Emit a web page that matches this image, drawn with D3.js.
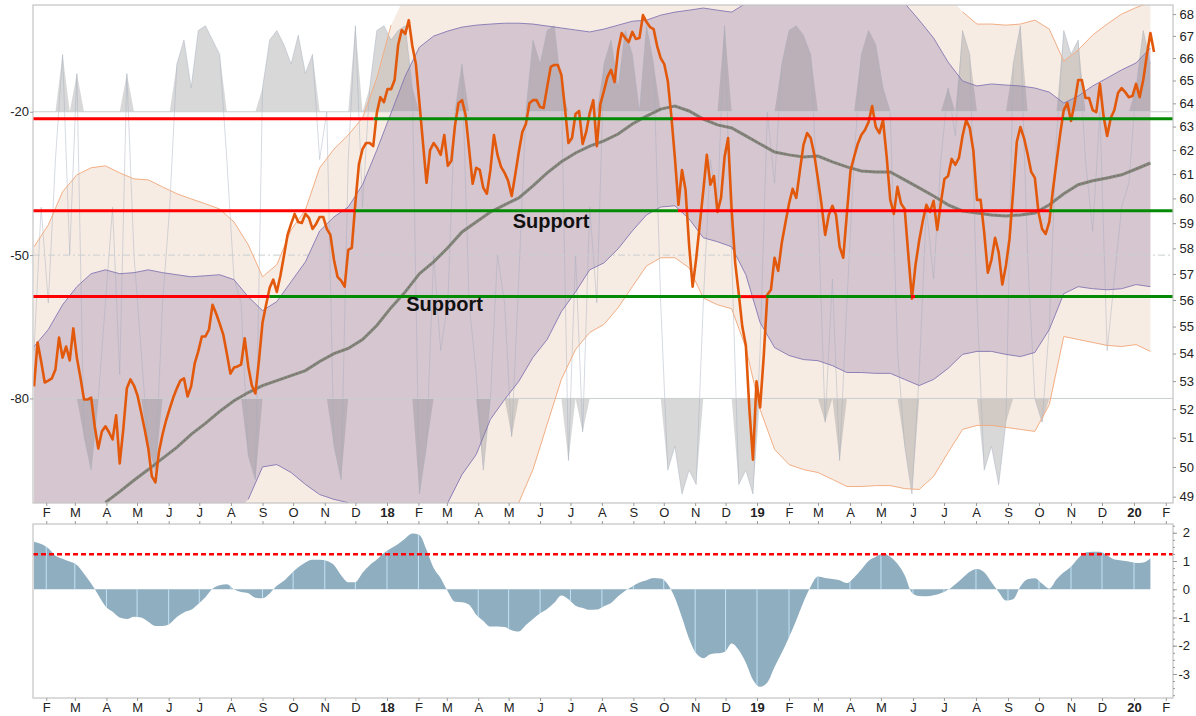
<!DOCTYPE html>
<html>
<head>
<meta charset="utf-8">
<script src="https://cdn.jsdelivr.net/npm/d3@7"></script>
<style>
 body { margin: 0; background: #fff; }
 text { font-family: "Liberation Sans", Arial, sans-serif; }
</style>
</head>
<body>
<script>
// closes every half week (from Jan 20 2017)
const price = [52.81,54.41,53.71,52.95,53.02,53.10,53.42,54.59,53.85,54.26,
 53.75,54.93,53.85,53.13,52.34,52.34,52.41,51.40,50.63,51.22,
 51.40,51.19,50.94,51.78,50.12,51.29,52.74,53.06,52.84,52.48,
 51.89,51.29,50.63,49.68,49.48,50.53,51.12,51.61,52.02,52.41,
 52.74,53.02,53.10,52.45,52.81,53.64,54.08,54.63,54.63,54.89,
 55.82,55.49,55.11,54.70,54.00,53.27,53.49,53.53,53.60,54.56,
 53.53,52.84,52.56,53.75,55.15,55.82,56.47,56.78,56.31,56.93,
 57.71,58.53,58.97,59.37,59.05,59.01,59.37,59.21,58.77,58.97,
 59.25,59.25,58.77,58.53,57.55,56.89,56.74,56.51,57.94,58.02,
 59.82,61.42,62.04,62.30,62.30,62.17,63.58,64.27,64.05,64.62,
 64.62,65.02,66.59,67.27,67.09,67.72,66.54,65.73,64.01,62.30,
 60.64,62.00,62.30,62.09,61.80,62.64,61.34,61.55,63.02,64.01,
 64.14,63.50,62.04,60.60,61.26,61.17,60.43,60.19,61.17,62.64,
 61.80,61.30,61.05,60.72,60.10,60.97,61.92,62.77,63.11,64.01,
 64.14,64.14,63.84,63.80,64.71,65.60,65.69,65.69,65.25,63.80,
 62.30,62.51,63.54,63.67,62.26,62.77,63.58,64.14,62.17,63.97,
 64.54,65.16,65.47,64.93,66.36,67.13,66.90,66.72,67.18,66.86,
 66.90,67.95,67.63,67.40,67.31,66.54,66.00,65.73,64.98,63.45,
 61.67,59.74,61.17,60.35,58.14,56.51,57.59,58.93,60.31,61.80,
 60.56,60.92,59.45,60.02,61.71,62.51,59.53,57.43,56.24,55.00,
 54.30,51.99,50.25,52.99,52.06,53.89,56.20,56.39,57.63,57.12,
 58.22,59.01,59.78,60.39,60.02,61.13,62.22,62.72,62.51,61.80,
 60.80,59.74,58.53,59.33,59.70,59.33,58.06,57.63,59.37,61.13,
 61.71,62.26,62.64,62.85,63.19,63.88,62.98,62.72,63.28,61.75,
 59.94,59.37,60.47,59.78,59.57,57.75,56.05,57.36,58.30,59.09,
 59.74,59.45,59.90,58.73,59.82,60.80,60.92,61.63,61.38,61.67,
 62.60,63.28,62.94,61.96,59.94,59.94,58.61,57.05,57.55,58.42,
 57.83,56.59,57.32,58.38,60.27,62.34,62.98,62.51,61.84,61.09,
 60.84,59.45,58.77,58.57,59.05,60.35,61.51,62.68,63.71,64.01,
 63.24,64.01,65.02,65.02,64.23,64.23,63.71,63.62,64.85,63.45,
 62.60,63.37,63.71,64.45,64.67,64.49,64.27,64.32,64.85,64.27,
 65.02,66.13,67.13,66.27];

// williams %R, weekly
const pctR = [-70,-40,-60,-30,-8,-50,-12,-88,-95,-80,
 -60,-40,-75,-12,-50,-70,-90,-95,-60,-40,
 -10,-5,-15,-3,-2,-5,-8,-30,-55,-60,
 -92,-97,-15,-5,-3,-6,-10,-4,-12,-8,
 -30,-20,-90,-97,-30,-2,-40,-15,-3,-2,
 -5,-3,-2,-15,-100,-90,-50,-70,-60,-20,
 -10,-60,-75,-95,-80,-50,-60,-88,-55,-20,
 -5,-10,-3,-2,-15,-93,-50,-87,-40,-60,
 -10,-5,-15,-3,-8,-20,-2,-10,-60,-95,
 -90,-100,-95,-98,-60,-30,-40,-2,-50,-98,
 -95,-100,-70,-20,-35,-10,-3,-2,-4,-8,
 -40,-85,-55,-93,-60,-30,-8,-3,-6,-15,
 -20,-70,-90,-100,-75,-40,-55,-30,-15,-25,
 -3,-8,-60,-95,-90,-98,-85,-10,-2,-50,
 -80,-85,-65,-25,-3,-8,-5,-30,-45,-20,
 -70,-55,-40,-35,-15,-3,-10];

// lower panel, weekly
const histo = [1.68,1.60,1.45,1.19,1.08,0.98,0.86,0.55,0.20,-0.20,
 -0.60,-0.80,-1.00,-1.05,-0.97,-1.00,-1.15,-1.30,-1.30,-1.22,
 -0.98,-0.82,-0.73,-0.52,-0.28,0.02,0.14,0.18,0.00,-0.10,
 -0.14,-0.30,-0.32,-0.15,0.12,0.30,0.55,0.78,0.95,1.04,
 1.04,1.00,0.86,0.50,0.25,0.25,0.58,0.85,1.05,1.28,
 1.45,1.60,1.80,1.97,1.92,1.40,0.75,0.39,-0.08,-0.44,
 -0.46,-0.55,-0.90,-1.12,-1.32,-1.32,-1.34,-1.45,-1.50,-1.27,
 -1.05,-0.85,-0.70,-0.48,-0.22,-0.35,-0.58,-0.66,-0.73,-0.72,
 -0.60,-0.49,-0.25,-0.05,0.10,0.24,0.32,0.40,0.38,0.18,
 -0.30,-1.00,-1.75,-2.27,-2.44,-2.30,-2.27,-2.22,-1.92,-2.15,
 -2.60,-3.20,-3.45,-3.30,-2.75,-2.25,-1.70,-1.10,-0.45,0.10,
 0.45,0.40,0.36,0.32,0.22,0.42,0.70,1.00,1.15,1.27,
 1.15,0.90,0.50,-0.12,-0.24,-0.25,-0.21,-0.14,-0.02,0.18,
 0.40,0.62,0.72,0.60,0.25,-0.10,-0.40,-0.35,0.10,0.35,
 0.39,0.20,0.02,0.35,0.60,0.80,1.10,1.30,1.33,1.33,
 1.20,1.05,1.02,0.98,0.93,0.95,1.10];
const signalLevel = 1.24;

// every two weeks; null = off the chart
const movAvg = [null,null,null,null,null,48.81,49.17,49.55,49.91,50.29,
 50.67,51.12,51.50,51.92,52.30,52.59,52.84,53.02,53.20,53.38,
 53.71,54.00,54.19,54.52,55.04,55.71,56.31,57.01,57.47,58.02,
 58.65,59.05,59.45,59.74,60.02,60.51,61.05,61.51,61.88,62.17,
 62.39,62.68,63.11,63.45,63.75,63.88,63.67,63.32,63.07,62.94,
 62.60,62.26,61.92,61.80,61.71,61.75,61.51,61.30,61.13,61.09,
 61.09,60.76,60.43,60.10,59.74,59.49,59.41,59.33,59.29,59.33,
 59.41,59.74,60.19,60.56,60.72,60.84,60.97,61.21,61.46];
const upperPurple = [54.26,54.89,55.82,56.51,57.01,57.16,57.01,57.05,57.16,57.05,
 56.97,56.89,56.93,56.97,56.78,56.12,55.60,55.94,56.70,57.47,
 58.69,59.25,59.65,60.56,62.00,63.58,65.20,66.49,66.99,67.22,
 67.40,67.49,67.54,67.58,67.58,67.54,67.45,67.36,67.27,67.18,
 67.31,67.49,67.67,67.72,67.95,68.09,68.18,68.28,68.18,68.09,
 68.50,null,null,null,null,null,null,null,null,null,
 null,68.50,67.72,66.90,65.82,64.98,64.76,64.85,64.80,64.76,
 64.67,64.49,64.01,64.32,64.76,65.11,65.47,65.78,66.45];
const lowerPurple = [null,null,null,null,null,null,null,null,null,null,
 null,null,null,null,null,48.91,50.00,50.08,49.81,49.41,
 49.07,48.91,48.80,null,null,null,null,null,null,48.80,
 49.74,50.42,51.64,52.34,52.99,53.86,54.52,55.56,56.31,57.16,
 57.43,57.98,58.69,59.33,59.65,59.70,59.17,58.42,58.26,58.06,
 56.97,55.15,54.22,53.93,53.78,53.74,53.56,53.31,53.31,53.28,
 53.28,53.06,52.84,53.06,53.46,53.97,54.08,54.08,53.97,53.89,
 54.04,54.89,56.24,56.51,56.43,56.39,56.43,56.59,56.51];
const upperOrange = [58.06,58.93,60.27,60.97,61.26,61.34,61.05,60.80,60.76,60.47,
 60.19,59.98,59.78,59.57,59.05,58.14,56.89,57.36,58.73,59.53,
 61.26,62.04,62.64,63.37,65.11,67.49,null,null,null,null,
 null,null,null,null,null,null,null,null,null,null,
 null,null,null,null,null,null,null,null,null,null,
 null,null,null,null,null,null,null,null,null,null,
 null,null,null,null,null,68.10,67.54,67.54,67.49,67.54,
 67.72,67.31,65.86,66.36,67.04,67.54,68.00,68.30,68.55];
const lowerOrange = [null,null,null,null,null,null,null,null,null,null,
 null,null,null,null,null,null,null,null,null,null,
 null,null,null,null,null,null,null,null,null,null,
 null,null,null,null,48.80,49.91,51.47,53.06,54.15,54.78,
 55.08,55.71,56.51,57.31,57.63,57.63,57.24,56.08,55.82,55.67,
 54.22,51.99,50.60,50.08,49.91,49.81,49.58,49.34,49.34,49.37,
 49.37,49.27,49.24,49.68,50.49,51.29,51.43,51.43,51.36,51.29,
 51.22,52.16,54.63,54.52,54.41,54.30,54.26,54.33,54.08];

// support / resistance levels
const levelPrices = [63.33, 59.50, 56.13];
const levelSegments = [
 [0, "2017-01-19", "2017-12-19", "red"],
 [0, "2017-12-19", "2018-10-10", "green"],
 [0, "2018-10-10", "2019-10-24", "red"],
 [0, "2019-10-24", "2020-02-08", "green"],
 [1, "2017-01-19", "2017-12-01", "red"],
 [1, "2017-12-01", "2018-10-15", "green"],
 [1, "2018-10-15", "2019-10-11", "red"],
 [1, "2019-10-11", "2020-02-08", "green"],
 [2, "2017-01-19", "2017-09-08", "red"],
 [2, "2017-09-08", "2018-12-16", "green"],
 [2, "2018-12-16", "2019-01-10", "red"],
 [2, "2019-01-10", "2020-02-08", "green"],
 [2, "2019-05-30", "2019-06-03", "red"]
];
const notes = [["Support", "2018-05-05", 58.79], ["Support", "2018-01-20", 55.58]];

const monthLetters = ["J","F","M","A","M","J","J","A","S","O","N","D"];
const priceTicks = d3.range(49, 69);
const rTicks = [-20, -50, -80];
const histoTicks = [-3, -2, -1, 0, 1, 2];

// layout
const left = 33, right = 1173;
const mainTop = 5, mainBottom = 503;
const lowTop = 524, lowBottom = 698;
const parse = d3.timeParse("%Y-%m-%d");
const start = new Date(2017, 0, 20);
const halfWeeks = d3.range(price.length).map(i => d3.timeHour.offset(start, 84 * i));
const weeks = d3.range(pctR.length).map(i => d3.timeDay.offset(start, 7 * i));
const biweeks = d3.range(movAvg.length).map(i => d3.timeDay.offset(start, 14 * i));
const months = d3.timeMonth.range(new Date(2017, 1, 1), new Date(2020, 1, 2));

const x = d3.scaleTime()
  .domain([new Date(2017,0,19), new Date(2018,0,1), new Date(2019,0,1), new Date(2020,0,1), new Date(2020,1,8)])
  .range([left, 387, 757, 1134, right]);
const yP = d3.scaleLog().domain([48.79, 68.42]).range([mainBottom, mainTop]);
const yR = d3.scaleLinear().domain([0, -100]).range([16.2, 494]);
const yH = d3.scaleLinear().domain([-3.85, 2.31]).range([lowBottom, lowTop]);

const svg = d3.select("body").append("svg").attr("width", 1196).attr("height", 716);
const defs = svg.append("defs");
defs.append("clipPath").attr("id", "mainClip").append("rect")
  .attr("x", left).attr("y", mainTop).attr("width", right - left).attr("height", mainBottom - mainTop);
defs.append("clipPath").attr("id", "lowClip").append("rect")
  .attr("x", left).attr("y", lowTop).attr("width", right - left).attr("height", lowBottom - lowTop);

const main = svg.append("g").attr("clip-path", "url(#mainClip)");

// bands: null means past the top (upper) or past the bottom (lower)
function band(lo, hi) {
  return d3.area()
    .x((d, i) => x(biweeks[i]))
    .y0((d, i) => lo[i] == null ? mainBottom + 10 : yP(lo[i]))
    .y1((d, i) => hi[i] == null ? mainTop - 10 : yP(hi[i]))(biweeks);
}
const bline = d3.line().defined(v => v != null).x((v, i) => x(biweeks[i])).y(v => yP(v));

main.append("path").attr("d", band(lowerOrange, upperOrange)).attr("fill", "#f7ece4");
main.append("path").attr("d", band(lowerPurple, upperPurple)).attr("fill", "#9c82ab").attr("fill-opacity", 0.36);

// %R shading
main.append("path")
  .attr("d", d3.area().x((v, i) => x(weeks[i])).y0(yR(-20)).y1(v => yR(Math.max(v, -20)))(pctR))
  .attr("fill", "#7f7f7f").attr("fill-opacity", 0.3);
main.append("path")
  .attr("d", d3.area().x((v, i) => x(weeks[i])).y0(yR(-80)).y1(v => yR(Math.min(v, -80)))(pctR))
  .attr("fill", "#7f7f7f").attr("fill-opacity", 0.3);
main.append("path")
  .attr("d", d3.line().x((v, i) => x(weeks[i])).y(v => yR(v))(pctR))
  .attr("fill", "none").attr("stroke", "#a4acbd").attr("stroke-opacity", 0.45).attr("stroke-width", 1);

// grid
rTicks.forEach(t => {
  main.append("line").attr("x1", left).attr("x2", right).attr("y1", yR(t)).attr("y2", yR(t))
    .attr("stroke", "#c9cfd0").attr("stroke-width", 1)
    .attr("stroke-dasharray", t == -50 ? "7,3,2,3" : null);
});

// band edges
[upperOrange, lowerOrange].forEach(s => main.append("path").attr("d", bline(s))
  .attr("fill", "none").attr("stroke", "#f2ae84").attr("stroke-width", 1));
[upperPurple, lowerPurple].forEach(s => main.append("path").attr("d", bline(s))
  .attr("fill", "none").attr("stroke", "#7e72b2").attr("stroke-width", 1).attr("stroke-opacity", 0.85));

// moving average
main.append("path").attr("d", bline(movAvg))
  .attr("fill", "none").attr("stroke", "#717c6e").attr("stroke-width", 3).attr("stroke-opacity", 0.85);
main.append("path").attr("d", bline(movAvg))
  .attr("fill", "none").attr("stroke", "#9b4a4a").attr("stroke-width", 1).attr("stroke-dasharray", "1,3");

// price
main.append("path")
  .attr("d", d3.line().x((v, i) => x(halfWeeks[i])).y(v => yP(v))(price))
  .attr("fill", "none").attr("stroke", "#e2590c").attr("stroke-width", 2.6)
  .attr("stroke-linejoin", "round");

// levels
main.selectAll(".lvl").data(levelSegments).enter().append("line")
  .attr("x1", d => x(parse(d[1]))).attr("x2", d => x(parse(d[2])))
  .attr("y1", d => yP(levelPrices[d[0]])).attr("y2", d => yP(levelPrices[d[0]]))
  .attr("stroke", d => d[3] == "red" ? "#ff0000" : "#058a05").attr("stroke-width", 3);

main.selectAll(".note").data(notes).enter().append("text")
  .attr("x", d => x(parse(d[1]))).attr("y", d => yP(d[2]))
  .attr("font-size", 20).attr("font-weight", "bold").attr("fill", "#111")
  .text(d => d[0]);

// lower panel
const low = svg.append("g").attr("clip-path", "url(#lowClip)");
const histArea = d3.area().curve(d3.curveMonotoneX)
  .x((v, i) => x(weeks[i])).y0(yH(0)).y1(v => yH(v))(histo);
defs.append("clipPath").attr("id", "histClip").append("path").attr("d", histArea);
low.append("path").attr("d", histArea).attr("fill", "#8fafc0");
low.append("g").attr("clip-path", "url(#histClip)")
  .selectAll("line").data(months).enter().append("line")
  .attr("x1", d => x(d)).attr("x2", d => x(d)).attr("y1", lowTop).attr("y2", lowBottom)
  .attr("stroke", "#c3e2f6").attr("stroke-width", 1);
low.append("line").attr("x1", left).attr("x2", right)
  .attr("y1", yH(signalLevel)).attr("y2", yH(signalLevel))
  .attr("stroke", "#ff0000").attr("stroke-width", 2.5).attr("stroke-dasharray", "5,3");

// frames
[[mainTop, mainBottom], [lowTop, lowBottom]].forEach(p => {
  svg.append("rect").attr("x", left).attr("y", p[0]).attr("width", right - left).attr("height", p[1] - p[0])
    .attr("fill", "none").attr("stroke", "#c4c4c4").attr("stroke-width", 1.2);
});

// axes
function styleAxis(g) {
  g.select(".domain").remove();
  g.selectAll(".tick line").attr("stroke", "#9a9a9a");
  g.selectAll("text").attr("fill", "#222").style("font-size", "13px");
}
const monthLabel = d => d.getMonth() == 0 ? d3.timeFormat("%y")(d) : monthLetters[d.getMonth()];
[mainBottom, lowBottom].forEach(yy => {
  svg.append("g").attr("transform", `translate(0,${yy})`)
    .call(d3.axisBottom(x).tickValues(months).tickFormat(monthLabel).tickSize(3).tickPadding(2))
    .call(styleAxis)
    .selectAll("text").style("font-weight", d => d.getMonth() == 0 ? "bold" : "normal");
});
svg.append("g").attr("transform", `translate(0,${lowTop})`)
  .call(d3.axisTop(x).tickValues(months).tickFormat("").tickSize(3)).call(styleAxis);

svg.append("g").attr("transform", `translate(${right},0)`)
  .call(d3.axisRight(yP).tickValues(priceTicks).tickFormat(d => d).tickSize(3))
  .call(styleAxis)
  .selectAll("text").attr("text-anchor", "end").attr("x", 21);

svg.append("g").attr("transform", `translate(${left},0)`)
  .call(d3.axisLeft(yR).tickValues(rTicks).tickFormat(d => d).tickSize(3).tickPadding(1))
  .call(styleAxis);

svg.append("g").attr("transform", `translate(${right},0)`)
  .call(d3.axisRight(yH).tickValues(d3.range(-3.75, 2.3, 0.25)).tickFormat("").tickSize(2))
  .call(styleAxis);
svg.append("g").attr("transform", `translate(${right},0)`)
  .call(d3.axisRight(yH).tickValues(histoTicks).tickFormat(d => d).tickSize(4))
  .call(styleAxis)
  .selectAll("text").attr("text-anchor", "end").attr("x", 17);
</script>
</body>
</html>
